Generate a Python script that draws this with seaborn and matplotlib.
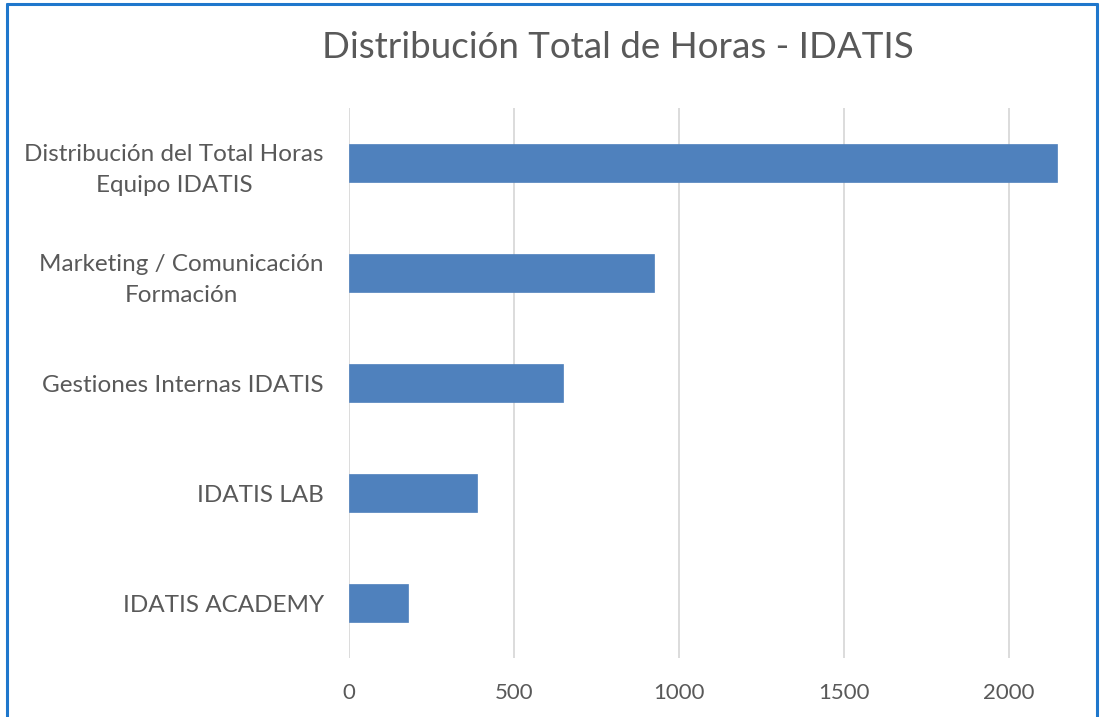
import matplotlib
matplotlib.use("Agg")
import matplotlib.pyplot as plt
from matplotlib.lines import Line2D
import seaborn as sns
import pandas as pd

categories = [
    "Distribución del Total Horas\nEquipo IDATIS",
    "Marketing / Comunicación\nFormación",
    "Gestiones Internas IDATIS",
    "IDATIS LAB",
    "IDATIS ACADEMY",
]
hours = [2145, 924, 648, 388, 181]
xticks = [0, 500, 1000, 1500, 2000]
title = "Distribución Total de Horas - IDATIS"

sns.set_theme(style="white")
plt.rcParams["font.family"] = ["Lato", "DejaVu Sans"]

df = pd.DataFrame({"cat": categories, "hours": hours})

fig = plt.figure(figsize=(11.02, 7.17), dpi=100)
ax = fig.add_axes([348.7 / 1102, 1 - 658 / 717, (1065 - 348.7) / 1102, (658 - 108) / 717])

sns.barplot(data=df, x="hours", y="cat", orient="h", color="#4F81BD",
            saturation=1, width=0.35, ax=ax, edgecolor="#4F81BD", linewidth=0.5)

ax.set_xlim(0, 2170)
ax.set_ylim(4.5, -0.5)
ax.set_xticks(xticks)
ax.set_xticklabels([str(t) for t in xticks])
ax.xaxis.grid(True, color="#D9D9D9", linewidth=1.3)
ax.set_axisbelow(True)
for s in ax.spines.values():
    s.set_visible(False)
ax.set_xlabel("")
ax.set_ylabel("")
ax.tick_params(axis="x", length=0, pad=18, labelsize=16, labelcolor="#595959")
ax.tick_params(axis="y", length=0, pad=18, labelsize=17.5, labelcolor="#595959")
for lab in ax.get_yticklabels():
    lab.set_multialignment("center")
    lab.set_linespacing(1.6)

fig.text(618 / 1102, 1 - 47 / 717, title, ha="center", va="center",
         fontsize=26.5, color="#595959")

bc = "#1F77CC"
fig.add_artist(Line2D([7 / 1102, 7 / 1102], [0, 1 - 4 / 717], color=bc, lw=2.2, transform=fig.transFigure))
fig.add_artist(Line2D([1097 / 1102, 1097 / 1102], [0, 1 - 4 / 717], color=bc, lw=2.2, transform=fig.transFigure))
fig.add_artist(Line2D([7 / 1102, 1097 / 1102], [1 - 4 / 717, 1 - 4 / 717], color=bc, lw=2.2, transform=fig.transFigure))

fig.savefig("out.png", dpi=100)
